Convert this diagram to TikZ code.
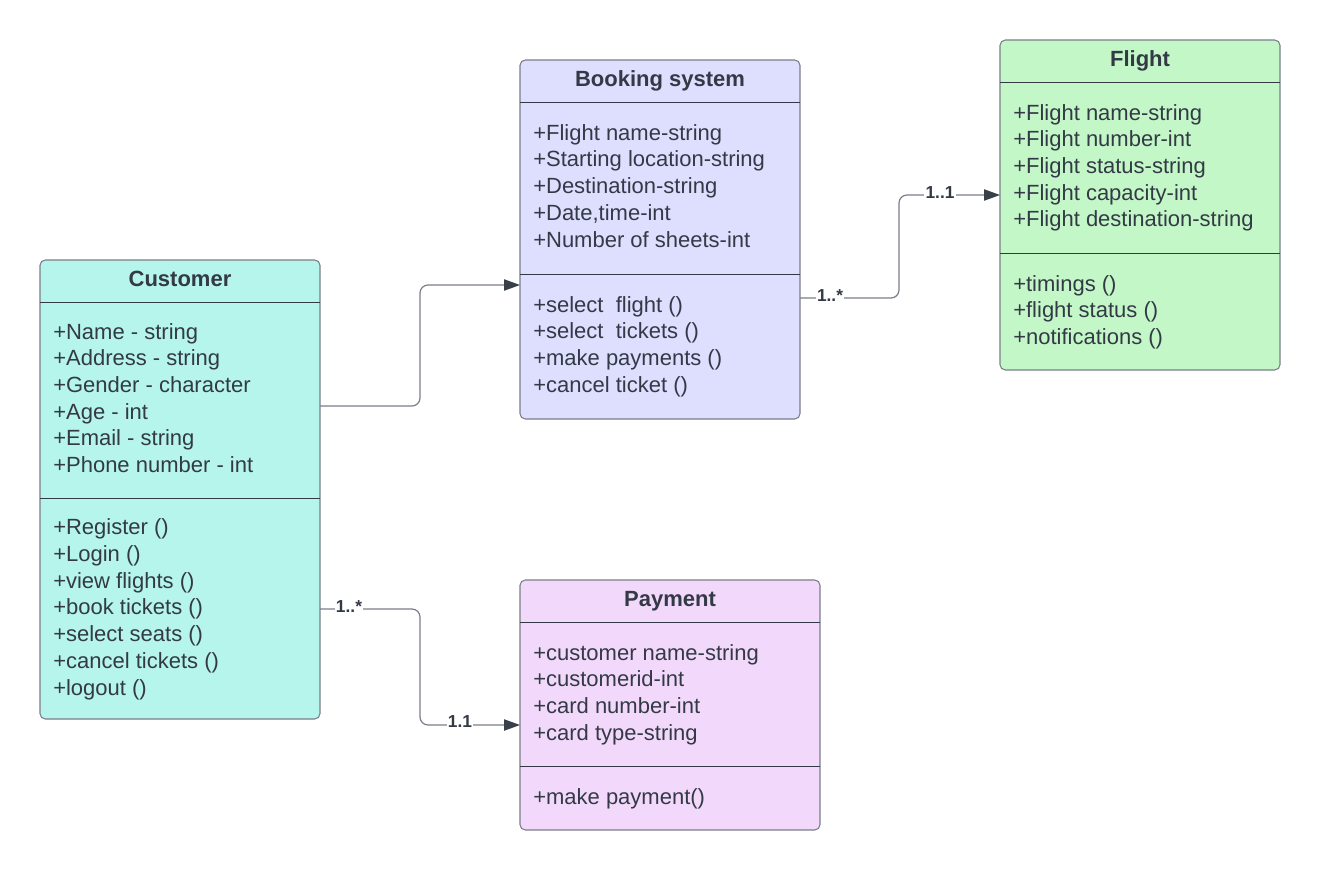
\documentclass[tikz,border=0pt]{standalone}
\usepackage{fontspec}
\setmainfont{Liberation Sans}
\usetikzlibrary{arrows.meta,calc}
\definecolor{custfill}{HTML}{B5F5EC}
\definecolor{bookfill}{HTML}{DEDEFF}
\definecolor{flightfill}{HTML}{C3F7C8}
\definecolor{payfill}{HTML}{F2D9FC}
\definecolor{edgec}{HTML}{7A7E88}
\definecolor{ink}{HTML}{333A45}
\definecolor{tipc}{HTML}{3A404A}
\begin{document}
\begin{tikzpicture}[x=0.75pt,y=-0.75pt,
  box/.style={draw=edgec, line width=0.8pt, rounded corners=4pt, anchor=north west, inner sep=0pt, outer sep=0pt},
  div/.style={draw=ink, line width=0.75pt},
  attr/.style={anchor=base west, inner sep=0pt, text=ink, font=\fontsize{16.5}{20}\selectfont},
  title/.style={anchor=base, inner sep=0pt, text=ink, font=\fontsize{16.5}{20}\selectfont\bfseries},
  conn/.style={draw=edgec, line width=0.9pt, rounded corners=6pt},
  arr/.style={-{Triangle[length=12pt,width=8.5pt,color=tipc]}},
  mult/.style={fill=white, inner sep=1pt, text=ink, font=\fontsize{13}{15}\selectfont\bfseries}]
\useasboundingbox (0,0) rectangle (1320,871);

% Customer
\node[box, fill=custfill, minimum width=210pt, minimum height=344.25pt] (cust) at (40,260) {};
\node[title] (custT) at (180,286) {Customer};
\draw[div] (40,302) -- (320,302);
\draw[div] (40,498) -- (320,498);
\foreach \t [count=\i] in {+Name - string,+Address - string,+Gender - character,+Age - int,+Email - string,+Phone number - int}
  \node[attr] (custA\i) at (53,{339+26.7*(\i-1)}) {\t};
\foreach \t [count=\i] in {+Register (),+Login (),+view flights (),+book tickets (),+select seats (),+cancel tickets (),+logout ()}
  \node[attr] (custM\i) at (53,{534.5+26.8*(\i-1)}) {\t};

% Booking system
\node[box, fill=bookfill, minimum width=210pt, minimum height=269.25pt] (book) at (520,60) {};
\node[title] (bookT) at (660,86) {Booking system};
\draw[div] (520,102) -- (800,102);
\draw[div] (520,274) -- (800,274);
\foreach \t [count=\i] in {+Flight name-string,+Starting location-string,+Destination-string,{+Date,time-int},+Number of sheets-int}
  \node[attr] (bookA\i) at (533,{140+26.8*(\i-1)}) {\t};
\foreach \t [count=\i] in {+select\ \ flight (),+select\ \ tickets (),+make payments (),+cancel ticket ()}
  \node[attr] (bookM\i) at (533,{312+26.8*(\i-1)}) {\t};

% Flight
\node[box, fill=flightfill, minimum width=210pt, minimum height=247.5pt] (flight) at (1000,40) {};
\node[title] (flightT) at (1140,66) {Flight};
\draw[div] (1000,82) -- (1280,82);
\draw[div] (1000,253) -- (1280,253);
\foreach \t [count=\i] in {+Flight name-string,+Flight number-int,+Flight status-string,+Flight capacity-int,+Flight destination-string}
  \node[attr] (flightA\i) at (1013,{120+26.7*(\i-1)}) {\t};
\foreach \t [count=\i] in {+timings (),+flight status (),+notifications ()}
  \node[attr] (flightM\i) at (1013,{291+26.7*(\i-1)}) {\t};

% Payment
\node[box, fill=payfill, minimum width=225pt, minimum height=187.5pt] (pay) at (520,580) {};
\node[title] (payT) at (670,606) {Payment};
\draw[div] (520,622) -- (820,622);
\draw[div] (520,766) -- (820,766);
\foreach \t [count=\i] in {+customer name-string,+customerid-int,+card number-int,+card type-string}
  \node[attr] (payA\i) at (533,{660+26.8*(\i-1)}) {\t};
\node[attr] (payM1) at (533,804) {+make payment()};

% Connectors
\draw[conn, arr] ($(cust.north east)+(0,146)$) -- (420,406) -- (420,285) -- ($(book.north west)+(0,225)$);
\draw[conn, arr] ($(book.north east)+(0,238)$) -- (899,298) -- (899,195) -- ($(flight.north west)+(0,155)$);
\draw[conn, arr] ($(cust.north east)+(0,349)$) -- (420,609) -- (420,725) -- ($(pay.north west)+(0,145)$);

% Multiplicities
\node[mult] (m1) at (830,296) {1..*};
\node[mult] (m2) at (940,193) {1..1};
\node[mult] (m3) at (349,606.5) {1..*};
\node[mult] (m4) at (460,722) {1.1};
\end{tikzpicture}
\end{document}
